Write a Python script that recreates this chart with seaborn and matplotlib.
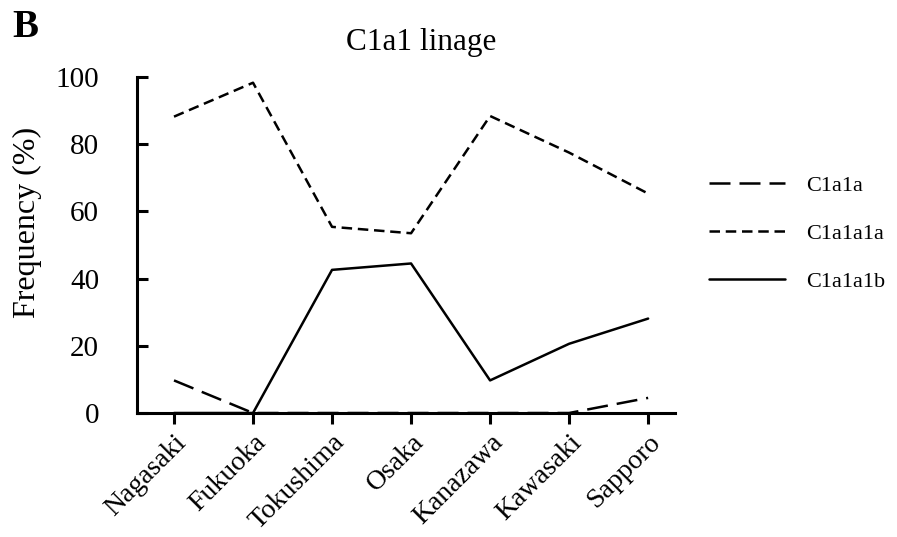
import matplotlib
matplotlib.use("Agg")
import matplotlib.pyplot as plt
import seaborn as sns
import pandas as pd

cities = ["Nagasaki", "Fukuoka", "Tokushima", "Osaka", "Kanazawa", "Kawasaki", "Sapporo"]
c1a1a = [9.7, 0, 0, 0, 0, 0, 4.5]
c1a1a1a = [88.2, 98.3, 55.4, 53.5, 88.4, 77.5, 65.3]
c1a1a1b = [0, 0, 42.6, 44.5, 9.7, 20.6, 28.1]
series_names = ["C1a1a", "C1a1a1a", "C1a1a1b"]
yticks = [0, 20, 40, 60, 80, 100]

rows = []
for name, vals in zip(series_names, [c1a1a, c1a1a1a, c1a1a1b]):
    for i, (c, v) in enumerate(zip(cities, vals)):
        rows.append({"pos": i, "city": c, "lineage": name, "freq": v})
df = pd.DataFrame(rows)

sns.set_theme(style="ticks")
plt.rcParams["font.family"] = ["Liberation Serif", "DejaVu Serif"]
plt.rcParams.update({"text.color": "black", "axes.labelcolor": "black",
                     "xtick.color": "black", "ytick.color": "black",
                     "axes.edgecolor": "black"})

W, H = 897, 537
fig = plt.figure(figsize=(W / 100, H / 100), dpi=100)
x0, x1, y0, y1 = 136.7, 675, 77, 413
ax = fig.add_axes([x0 / W, 1 - y1 / H, (x1 - x0) / W, (y1 - y0) / H])

lw = 1.8
dashes = {"C1a1a": (8.4, 3.6), "C1a1a1a": (4.2, 2.3), "C1a1a1b": ""}
sns.lineplot(data=df, x="pos", y="freq", style="lineage", dashes=dashes,
             color="black", linewidth=lw, ax=ax, legend=True, clip_on=False)

ax.set_xlim(-0.472, 6.34)
ax.set_ylim(0, 100)
ax.set_yticks(yticks)
ax.set_yticklabels([str(t) for t in yticks], fontsize=21, color="black")
ax.set_xticks(range(len(cities)))
ax.set_xticklabels(cities, rotation=45, ha="right", va="top", rotation_mode="anchor",
                   fontsize=20, color="black")
ax.set_xlabel("")
ax.set_ylabel("Frequency (%)", fontsize=23, color="black")
ax.yaxis.set_label_coords(42 / W, 1 - 222 / H, transform=fig.transFigure)
ax.set_title("C1a1 linage", fontsize=22.5, pad=19.5, x=0.529, color="black")

for s in ["top", "right"]:
    ax.spines[s].set_visible(False)
for s in ["left", "bottom"]:
    ax.spines[s].set_linewidth(2.2)
    ax.spines[s].set_color("black")
ax.tick_params(axis="y", width=2.2, length=8, color="black", direction="in", pad=27)
ax.tick_params(axis="x", width=2.2, length=8, color="black", direction="out", pad=4)

handles, labels = ax.get_legend_handles_labels()
leg = ax.legend(handles, labels, loc="upper left", bbox_to_anchor=(689 / W, 1 - 155 / H),
                bbox_transform=fig.transFigure, frameon=False, fontsize=16,
                handlelength=3.4, labelspacing=1.25, handletextpad=0.95)
for line in leg.get_lines():
    line.set_linewidth(lw)
    line.set_color("black")
for t in leg.get_texts():
    t.set_color("black")

fig.text(12 / W, 1 - 28 / H, "B", fontsize=28, fontweight="bold", va="center", ha="left",
         color="black")

fig.savefig("out.png", dpi=100, facecolor="white")
